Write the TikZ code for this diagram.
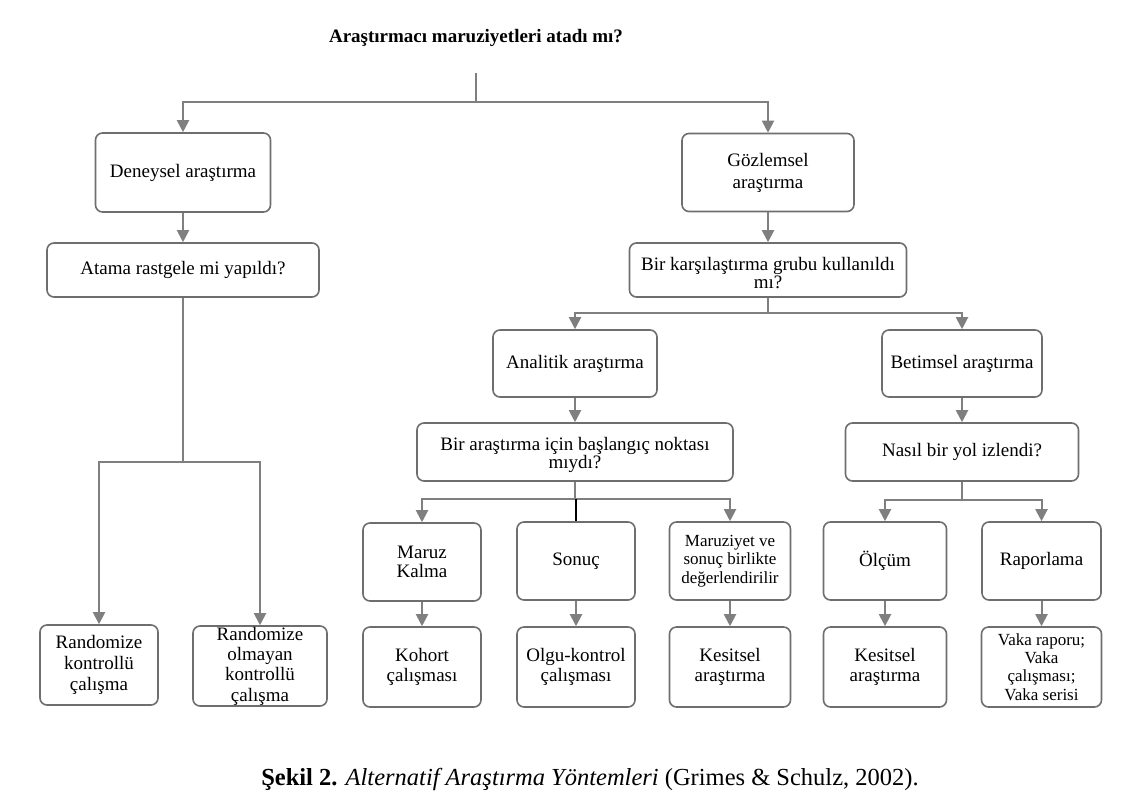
\documentclass[tikz,border=0pt]{standalone}
\usepackage{fontspec}
\setmainfont{Liberation Serif}
\usetikzlibrary{arrows.meta}
\definecolor{lgray}{HTML}{7F7F7F}
\definecolor{bgray}{HTML}{6E6E6E}
\begin{document}
\begin{tikzpicture}[x=1pt,y=-1pt,
  box/.style={draw=bgray, fill=white, line width=1.6pt, rounded corners=7pt, align=center, inner sep=0pt, font=\fontsize{19}{20.5}\selectfont, text=black},
  smallbox/.style={box, font=\fontsize{17}{18.3}\selectfont},
  conn/.style={draw=lgray, line width=2pt},
  arr/.style={conn, -{Triangle[width=12pt,length=12pt]}},
  blk/.style={draw=black, line width=2pt},
]
\useasboundingbox (0,0) rectangle (1139,806);

% title
\node[font=\fontsize{19}{20}\selectfont\bfseries] (title) at (476,38) {Araştırmacı maruziyetleri atadı mı?};

% level 1
\node[box, minimum width=175pt, minimum height=79pt] (den) at (183,172.5) {Deneysel araştırma};
\node[box, minimum width=172pt, minimum height=78pt, font=\fontsize{19}{22}\selectfont] (goz) at (768,172.5) {Gözlemsel\\araştırma};

% level 2
\node[box, minimum width=272pt, minimum height=54pt] (atama) at (183,270) {Atama rastgele mi yapıldı?};
\node[box, minimum width=277pt, minimum height=54pt] (karsi) at (768,270) {};
\node[font=\fontsize{19}{17.5}\selectfont, align=center, inner sep=0pt] (karsit) at (768,273) {Bir karşılaştırma grubu kullanıldı\\mı?};

% left leaves
\node[box, minimum width=118pt, minimum height=80pt, font=\fontsize{19}{21}\selectfont] (rkc) at (99,665) {Randomize\\kontrollü\\çalışma};
\node[box, minimum width=134pt, minimum height=80pt, font=\fontsize{19}{20.3}\selectfont] (rokc) at (260,666) {Randomize\\olmayan\\kontrollü\\çalışma};

% level 3 right
\node[box, minimum width=164pt, minimum height=67pt] (anal) at (575,363.5) {Analitik araştırma};
\node[box, minimum width=160pt, minimum height=67pt] (betim) at (962,363.5) {Betimsel araştırma};

% level 4
\node[box, minimum width=316pt, minimum height=58pt] (bas) at (575,452) {};
\node[font=\fontsize{19}{18.5}\selectfont, align=center, inner sep=0pt] (bast) at (575,455) {Bir araştırma için başlangıç noktası\\mıydı?};
\node[box, minimum width=233pt, minimum height=58pt] (nasil) at (962,452) {Nasıl bir yol izlendi?};

% level 5
\node[box, minimum width=118pt, minimum height=78pt, font=\fontsize{19}{19}\selectfont] (maruz) at (422,562) {Maruz\\Kalma};
\node[box, minimum width=118pt, minimum height=78pt] (sonuc) at (576,561) {Sonuç};
\node[smallbox, minimum width=121pt, minimum height=78pt] (mvs) at (730,561) {Maruziyet ve\\sonuç birlikte\\değerlendirilir};
\node[box, minimum width=123pt, minimum height=78pt] (olcum) at (885,561) {Ölçüm};
\node[box, minimum width=119pt, minimum height=78pt] (rapor) at (1041.5,561) {Raporlama};

% level 6
\node[box, minimum width=118pt, minimum height=80pt] (kohort) at (422,667) {Kohort\\çalışması};
\node[box, minimum width=118pt, minimum height=80pt] (olgu) at (576,667) {Olgu-kontrol\\çalışması};
\node[box, minimum width=121pt, minimum height=80pt] (kes1) at (730,667) {Kesitsel\\araştırma};
\node[box, minimum width=123pt, minimum height=80pt] (kes2) at (885,667) {Kesitsel\\araştırma};
\node[smallbox, minimum width=120pt, minimum height=80pt] (vaka) at (1041.5,667) {Vaka raporu;\\Vaka\\çalışması;\\Vaka serisi};

% caption
\node[font=\fontsize{24.5}{26}\selectfont] (cap) at (590,779) {\textbf{Şekil 2.} \textit{Alternatif Araştırma Yöntemleri} (Grimes \& Schulz, 2002).};

% connectors
\coordinate (t0) at (476,73);
\coordinate (b1) at (476,102);
\draw[conn] (t0) -- (b1);
\draw[arr] (b1) -| (den.north);
\draw[arr] (b1) -| (goz.north);

\draw[arr] (den.south) -- (atama.north);
\coordinate (b2) at (183,462);
\draw[conn] (atama.south) -- (b2);
\draw[arr] (b2) -| (rkc.north);
\draw[arr] (b2) -| (rokc.north);

\draw[arr] (goz.south) -- (karsi.north);
\coordinate (b3) at (768,313);
\draw[conn] (karsi.south) -- (b3);
\draw[arr] (b3) -| (anal.north);
\draw[arr] (b3) -| (betim.north);

\draw[arr] (anal.south) -- (bas.north);
\coordinate (b4) at (575,499);
\draw[conn] (bas.south) -- (b4);
\draw[arr] (b4) -| (maruz.north);
\draw[arr] (b4) -| (mvs.north);
\draw[blk] (b4 -| sonuc.north) -- (sonuc.north);

\draw[arr] (betim.south) -- (nasil.north);
\coordinate (b5) at (962,500);
\draw[conn] (nasil.south) -- (b5);
\draw[arr] (b5) -| (olcum.north);
\draw[arr] (b5) -| (rapor.north);

\draw[arr] (maruz.south) -- (kohort.north);
\draw[arr] (sonuc.south) -- (olgu.north);
\draw[arr] (mvs.south) -- (kes1.north);
\draw[arr] (olcum.south) -- (kes2.north);
\draw[arr] (rapor.south) -- (vaka.north);
\end{tikzpicture}
\end{document}
